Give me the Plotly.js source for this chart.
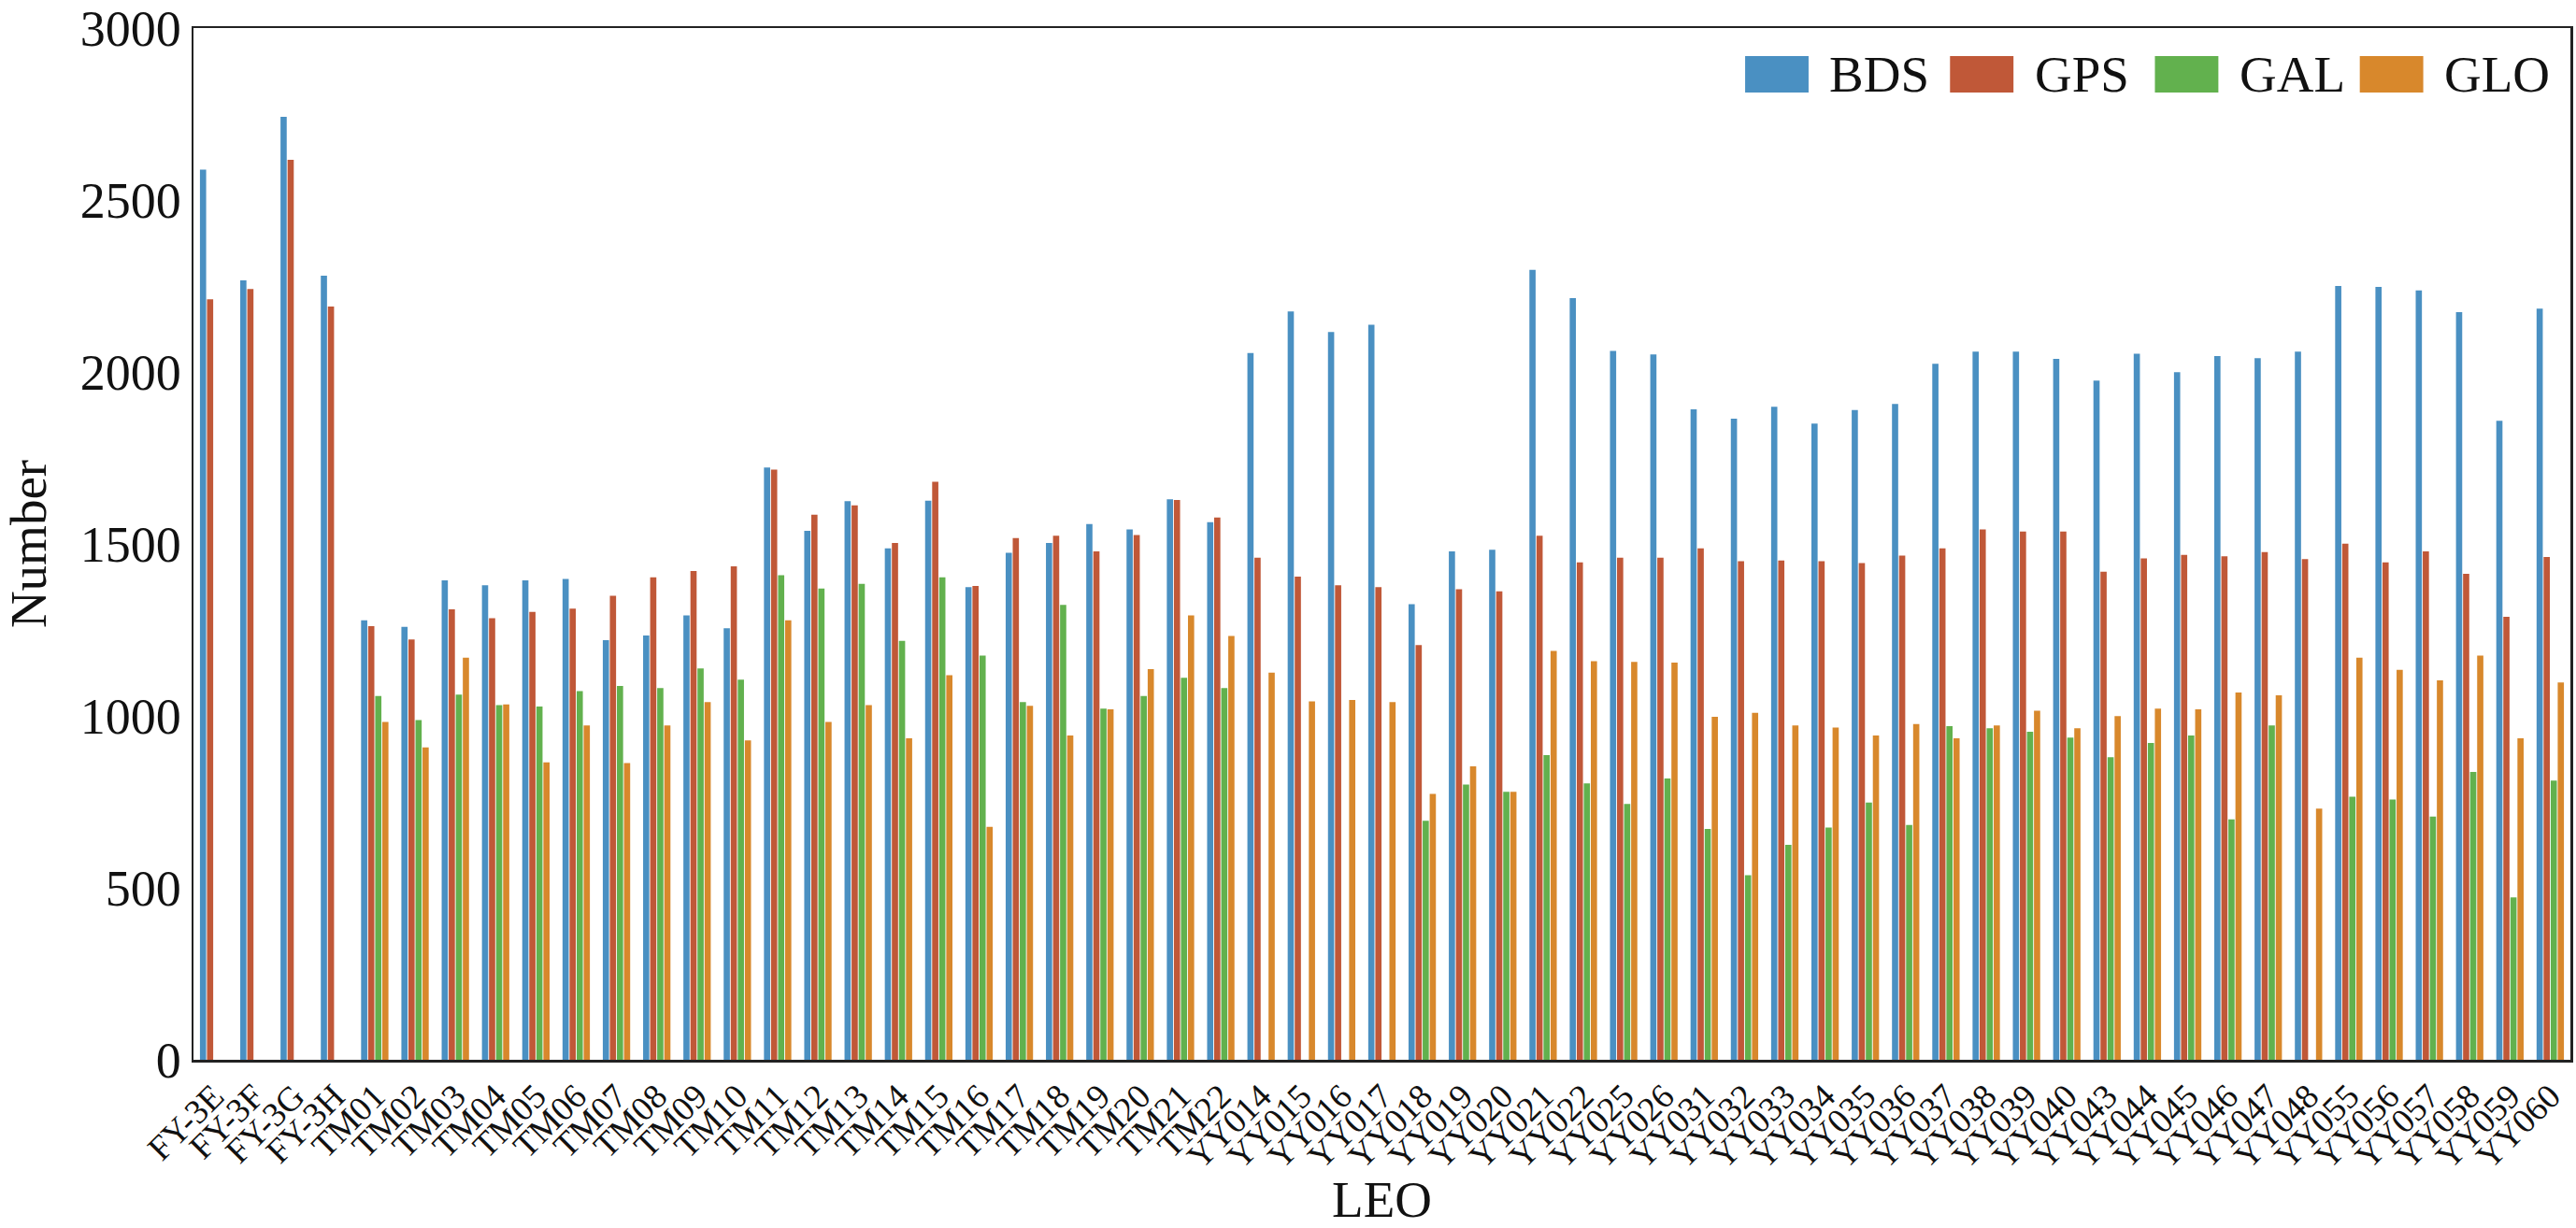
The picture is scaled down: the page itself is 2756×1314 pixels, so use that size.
<!DOCTYPE html>
<html lang="en">
<head>
    <meta charset="UTF-8">
    <title>LEO observations</title>
    <script src="https://cdn.plot.ly/plotly-3.0.1.min.js"></script>
    <style>
        body { margin: 0; background: #fff; }
        #chart { width: 2756px; height: 1314px; }
    </style>
</head>
<body>

<div id="chart"></div>

<script>
    let leoNames = ['FY-3E', 'FY-3F', 'FY-3G', 'FY-3H',
        'TM01', 'TM02', 'TM03', 'TM04', 'TM05', 'TM06', 'TM07', 'TM08', 'TM09', 'TM10', 'TM11',
        'TM12', 'TM13', 'TM14', 'TM15', 'TM16', 'TM17', 'TM18', 'TM19', 'TM20', 'TM21', 'TM22',
        'YY014', 'YY015', 'YY016', 'YY017', 'YY018', 'YY019', 'YY020', 'YY021', 'YY022', 'YY025',
        'YY026', 'YY031', 'YY032', 'YY033', 'YY034', 'YY035', 'YY036', 'YY037', 'YY038', 'YY039',
        'YY040', 'YY043', 'YY044', 'YY045', 'YY046', 'YY047', 'YY048', 'YY055', 'YY056', 'YY057',
        'YY058', 'YY059', 'YY060'];

    let bds = [2588, 2266, 2742, 2280,
        1278, 1259, 1394, 1380, 1394, 1398, 1220, 1234, 1292, 1255, 1722,
        1538, 1624, 1487, 1626, 1374, 1474, 1503, 1558, 1542, 1630, 1563,
        2055, 2176, 2116, 2137, 1325, 1478, 1483, 2297, 2215, 2061,
        2051, 1891, 1864, 1899, 1850, 1889, 1907, 2024, 2059, 2059,
        2038, 1975, 2053, 1999, 2046, 2040, 2059, 2250, 2247, 2237,
        2174, 1858, 2184];

    let gps = [2211, 2241, 2617, 2190,
        1261, 1222, 1310, 1284, 1302, 1312, 1349, 1403, 1421, 1435, 1716,
        1585, 1612, 1503, 1681, 1378, 1517, 1524, 1478, 1526, 1628, 1577,
        1460, 1405, 1380, 1374, 1206, 1368, 1362, 1524, 1446, 1460,
        1460, 1487, 1450, 1452, 1450, 1444, 1466, 1487, 1542, 1536,
        1536, 1419, 1458, 1468, 1464, 1476, 1456, 1501, 1446, 1478,
        1413, 1288, 1462];

    let gal = [null, null, null, null,
        1058, 988, 1062, 1031, 1027, 1072, 1087, 1081, 1138, 1105, 1409,
        1370, 1384, 1218, 1403, 1175, 1040, 1323, 1021, 1058, 1111, 1081,
        null, null, null, null, 695, 800, 779, 886, 804, 744,
        818, 671, 537, 625, 675, 748, 683, 970, 964, 954,
        937, 880, 921, 943, 699, 972, null, 765, 757, 707,
        837, 472, 812];

    let glo = [null, null, null, null,
        982, 908, 1169, 1033, 865, 972, 863, 972, 1040, 929, 1278,
        982, 1031, 935, 1118, 677, 1029, 943, 1019, 1136, 1292, 1232,
        1126, 1042, 1046, 1040, 773, 853, 779, 1189, 1159, 1157,
        1155, 997, 1009, 972, 966, 943, 976, 935, 972, 1015,
        964, 999, 1021, 1019, 1068, 1060, 730, 1169, 1134, 1103,
        1175, 935, 1097];

    let systems = ['BDS', 'GPS', 'GAL', 'GLO'];
    let colors = ['#4a90c2', '#c05838', '#62b14e', '#d8882c'];
    let series = [bds, gps, gal, glo];

    let font = 'Liberation Serif, Times New Roman, serif';

    let data = [];
    for (let i = 0; i < systems.length; i++) {
        data.push({
            x: leoNames,
            y: series[i],
            type: 'bar',
            name: systems[i],
            marker: {color: colors[i], line: {width: 0}},
            showlegend: false
        });
    }

    // legend drawn by hand so the swatches can be large
    let shapes = [];
    let annotations = [];
    let legStart = 0.6528, legStep = 0.0862, swW = 0.0267;
    for (let i = 0; i < systems.length; i++) {
        let x0 = legStart + i * legStep;
        shapes.push({
            type: 'rect', xref: 'paper', yref: 'paper',
            x0: x0, x1: x0 + swW, y0: 0.9375, y1: 0.9728,
            fillcolor: colors[i], line: {width: 0}
        });
        annotations.push({
            xref: 'paper', yref: 'paper',
            x: x0 + swW + 0.008, y: 0.955,
            xanchor: 'left', yanchor: 'middle',
            text: systems[i], showarrow: false,
            font: {family: font, size: 55, color: '#111'}
        });
    }

    let layout = {
        width: 2756,
        height: 1314,
        margin: {l: 207, r: 6, t: 30, b: 180},
        paper_bgcolor: '#fff',
        plot_bgcolor: '#fff',
        barmode: 'group',
        bargap: 0.3,
        bargroupgap: 0.12,
        font: {family: font, color: '#111'},
        xaxis: {
            type: 'category',
            tickmode: 'linear',
            dtick: 1,
            tickangle: -45,
            tickfont: {family: font, size: 37, color: '#111'},
            showline: true, linecolor: '#222', linewidth: 2.5, mirror: true,
            showgrid: false, ticks: '',
            title: {text: 'LEO', font: {family: font, size: 55}, standoff: 12}
        },
        yaxis: {
            range: [0, 3000],
            dtick: 500,
            tickfont: {family: font, size: 54, color: '#111'},
            showline: true, linecolor: '#222', linewidth: 2.5, mirror: true,
            showgrid: false, zeroline: false, ticks: '',
            title: {text: 'Number', font: {family: font, size: 55}, standoff: 26}
        },
        shapes: shapes,
        annotations: annotations
    };

    Plotly.newPlot('chart', data, layout, {displayModeBar: false, staticPlot: true});
</script>

</body>
</html>
